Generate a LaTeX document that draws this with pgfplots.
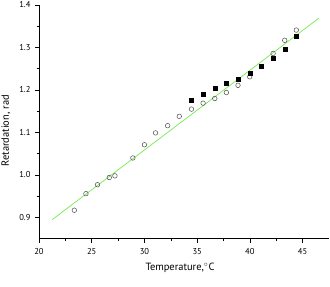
\documentclass[border=0pt]{standalone}
\usepackage{fontspec}
\setmainfont{PT Sans}
\usepackage{pgfplots}
\pgfplotsset{compat=1.18}
\definecolor{fitgreen}{rgb}{0.45,0.92,0.30}
\definecolor{circgray}{rgb}{0.30,0.30,0.30}
\begin{document}
\begin{tikzpicture}[x=1bp,y=1bp]
\useasboundingbox (-39,-48.3) rectangle (291,238.7);
\begin{axis}[
  scale only axis,
  width=290bp, height=233.7bp,
  at={(0,0)}, anchor=south west,
  xmin=20, xmax=47.5, ymin=0.85, ymax=1.4,
  axis x line*=bottom, axis y line*=left,
  axis line style={black, line width=0.6bp, -},
  xtick={20,25,30,35,40,45},
  ytick={0.9,1.0,1.1,1.2,1.3,1.4},
  minor x tick num=1, minor y tick num=1,
  tick align=outside,
  major tick length=4bp, minor tick length=2bp,
  tick style={black, line width=0.6bp},
  /pgf/number format/assume math mode=true,
  xticklabel style={yshift=-2.5bp},
  yticklabel style={xshift=-1bp, /pgf/number format/.cd, fixed, fixed zerofill, precision=1},
  ticklabel style={font=\fontsize{8.6}{10}\selectfont},
  label style={font=\fontsize{10.5}{12}\selectfont},
  xlabel={Temperature,$^{\circ}$C},
  ylabel={Retardation, rad},
  xlabel style={at={([xshift=-4bp,yshift=-29.5bp]axis description cs:0.5,0)}, anchor=center},
  ylabel style={at={([xshift=-33bp,yshift=-9bp]axis description cs:0,0.5)}, anchor=center},
  clip=false,
]
\addplot[fitgreen, line width=0.7bp, no marks] coordinates {(21.26,0.895) (46.54,1.369)};
\addplot[only marks, mark=o, mark size=2.3bp, mark options={circgray, line width=0.5bp}] coordinates {
(23.35,0.917) (24.45,0.956) (25.55,0.977) (26.66,0.994) (27.20,0.998)
(28.90,1.040) (30.00,1.071) (31.05,1.099) (32.20,1.116) (33.30,1.138)
(34.46,1.155) (35.56,1.169) (36.67,1.180) (37.77,1.194) (38.87,1.211)
(39.98,1.231) (42.20,1.286) (43.30,1.317) (44.40,1.341)
};
\addplot[only marks, mark=square*, mark size=2bp, mark options={black}] coordinates {
(34.46,1.177) (35.56,1.190) (36.67,1.204) (37.77,1.215) (38.87,1.225)
(39.98,1.240) (41.09,1.257) (42.20,1.275) (43.30,1.295) (44.40,1.327)
};
\end{axis}
\end{tikzpicture}
\end{document}
